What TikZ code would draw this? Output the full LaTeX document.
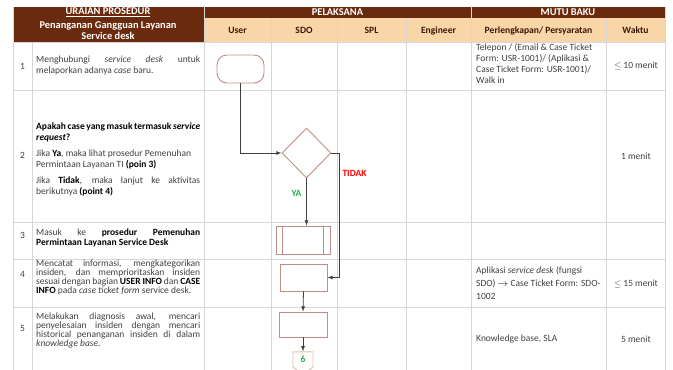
\documentclass[tikz,border=0pt]{standalone}
\usepackage{fontspec}
\setmainfont{Carlito}
\definecolor{hdrbrown}{HTML}{6A2A0D}
\definecolor{hdrpeach}{HTML}{F8D6A8}
\definecolor{gridgray}{HTML}{D6D6D6}
\definecolor{shapeline}{HTML}{BC8F82}
\definecolor{offline}{HTML}{E2C3A6}
\definecolor{yagreen}{HTML}{1FB04C}
\usepackage{amsmath,amssymb}
\usepackage{tikz}
\usetikzlibrary{shapes,arrows,positioning,calc}

\begin{document}
\begin{tikzpicture}[x=1pt,y=-1pt,
  font=\fontsize{9.5}{10.5}\selectfont,
  cell/.style={text=black!75, inner sep=0pt},
  desc/.style={cell, anchor=west, text width=164pt, align=justify,
    execute at begin node={\hyphenpenalty=10000\hbadness=10000\tolerance=10000\relax}},
  note/.style={cell, anchor=west, align=left},
  hdr/.style={font=\fontsize{10.4}{11.5}\selectfont\bfseries, text=white, align=center},
  lane/.style={font=\fontsize{9.6}{11}\selectfont\bfseries, text=hdrbrown!55!black},
  box/.style={draw=shapeline, fill=white, line width=0.9pt, inner sep=0pt},
  flow/.style={draw=black!75, line width=0.8pt, -latex},
]
\useasboundingbox (0,0) rectangle (673,370);

% Draw header
\fill[hdrbrown] (13,7) rectangle (665,18);
\fill[hdrbrown] (13,18) rectangle (204,42);
\fill[hdrpeach] (204,18) rectangle (665,42);

% Draw grid
\foreach \x in {271,337,406,606}
  \draw[gridgray] (\x,18) -- (\x,370);
\foreach \x in {13,204,471,665}
  \draw[gridgray] (\x,7) -- (\x,370);
\draw[gridgray] (32,42) -- (32,370);
\foreach \y in {42,90,222,259,307}
  \draw[gridgray] (13,\y) -- (665,\y);

% Header texts
\node[hdr] (uraian) at (108,12.5) {\underline{URAIAN PROSEDUR}};
\node[hdr] (judul) at (108,30.5) {Penanganan Gangguan Layanan\\Service desk};
\node[hdr] (pelaksana) at (337.5,12.5) {PELAKSANA};
\node[hdr] (mutu) at (568,12.5) {MUTU BAKU};
\foreach \x/\t [count=\i] in {237.5/User, 304/SDO, 371.5/SPL, 438.5/Engineer,
    538.5/{Perlengkapan/ Persyaratan}, 635.5/Waktu}
  \node[lane] (lane\i) at (\x,30.5) {\t};

% Step numbers
\foreach \y/\n in {66/1,155/2,235/3,274/4,328/5}
  \node[cell] (no\n) at (22.5,\y) {\n};

% Descriptions
\node[desc, font=\fontsize{9.5}{11}\selectfont] (desc1) at (36,65.5)
  {Menghubungi \textit{service desk} untuk\linebreak melaporkan adanya \textit{case} baru.};
\node[desc] (desc2) at (36,159.5)
  {\textbf{\color{black}Apakah case yang masuk termasuk \textit{service}\linebreak \textit{request}?}\par\vspace{6pt}
   Jika \textbf{\color{black}Ya}, maka lihat prosedur Pemenuhan\newline Permintaan Layanan TI \textbf{\color{black}(poin 3)}\par\vspace{6pt}
   Jika \textbf{\color{black}Tidak}, maka lanjut ke aktivitas\linebreak berikutnya \textbf{\color{black}(point 4)}};
\node[desc] (desc3) at (36,238)
  {Masuk ke \textbf{\color{black}prosedur Pemenuhan\linebreak Permintaan Layanan Service Desk}};
\node[desc, font=\fontsize{9.5}{8.9}\selectfont] (desc4) at (36,277.5)
  {Mencatat informasi, mengkategorikan\linebreak insiden, dan memprioritaskan insiden\linebreak
   sesuai dengan bagian \textbf{\color{black}USER INFO} dan \textbf{\color{black}CASE}\linebreak
   \textbf{\color{black}INFO} pada \textit{case ticket form} service desk.};
\node[desc, font=\fontsize{9.5}{9.1}\selectfont] (desc5) at (36,330.5)
  {Melakukan diagnosis awal, mencari\linebreak penyelesaian insiden dengan mencari\linebreak
   historical penanganan insiden di dalam\linebreak \textit{knowledge base}.};

% Mutu baku
\node[note, font=\fontsize{9.5}{11}\selectfont] (alat1) at (476,63.5)
  {Telepon / (Email \& Case Ticket\\Form: USR-1001)/ (Aplikasi \&\\Case Ticket Form: USR-1001)/\\Walk in};
\node[note, font=\fontsize{9.5}{13}\selectfont] (alat4) at (476,283)
  {Aplikasi \textit{service desk} (fungsi\\SDO) {\boldmath$\rightarrow$} Case Ticket Form: SDO-\\1002};
\node[note] (alat5) at (476,339) {Knowledge base, SLA};
\node[cell] (waktu1) at (636,66) {$\leq$ 10 menit};
\node[cell] (waktu2) at (636,156) {1 menit};
\node[cell] (waktu4) at (636,284) {$\leq$ 15 menit};
\node[cell] (waktu5) at (636,339) {5 menit};

% Flow shapes
\node[box, rounded corners=10pt, minimum width=47pt, minimum height=28pt] (start) at (240.5,69) {};
\node[box, diamond, minimum width=49pt, minimum height=50pt] (decide) at (306.5,153) {};
\node[box, minimum width=54pt, minimum height=28pt] (proc3) at (303,240) {};
\draw[shapeline, line width=0.9pt] ([xshift=7pt]proc3.north west) -- ([xshift=7pt]proc3.south west);
\draw[shapeline, line width=0.9pt] ([xshift=-7pt]proc3.north east) -- ([xshift=-7pt]proc3.south east);
\node[box, minimum width=47pt, minimum height=27pt] (proc4) at (303.5,277.5) {};
\node[box, minimum width=48pt, minimum height=25pt] (proc5) at (303,324.5) {};
\node[box, draw=offline, signal, signal to=south, signal pointer angle=110,
  minimum width=20pt, minimum height=17pt, text=yagreen, font=\fontsize{9.5}{10}\selectfont\bfseries]
  (off6) at (303,359.5) {6};

% Connectors
\draw[flow] (start.south) |- (decide.west);
\draw[flow] (decide.south) -- (decide.south |- proc3.north);
\draw[flow] (decide.east) -- ++(8,0) |- (proc4.east);
\draw[flow] (proc4.south) -- (proc5.north);
\draw[flow] (proc5.south) -- (off6.north);

% Branch labels
\node[text=red, font=\fontsize{9.5}{10}\selectfont\bfseries] (tidak) at (354.5,173) {TIDAK};
\node[text=yagreen, font=\fontsize{9.5}{10}\selectfont\bfseries] (ya) at (296.5,193) {YA};
\end{tikzpicture}
\end{document}
